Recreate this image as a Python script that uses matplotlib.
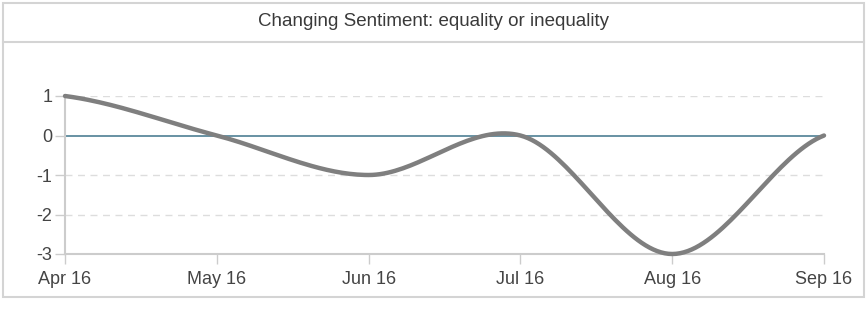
import numpy as np
import matplotlib
matplotlib.use("Agg")
import matplotlib.pyplot as plt
from matplotlib.patches import Rectangle
from matplotlib.lines import Line2D

# chart data
months = ["Apr 16", "May 16", "Jun 16", "Jul 16", "Aug 16", "Sep 16"]
sentiment = [1, 0, -1, 0, -3, 0]
yticks = [1, 0, -1, -2, -3]
title = "Changing Sentiment: equality or inequality"

plt.rcParams["font.family"] = ["Liberation Sans", "DejaVu Sans"]


def cardinal(x, y, n=40):
    # cardinal (catmull-rom) spline like the d3 "cardinal" line
    x = np.asarray(x, float)
    y = np.asarray(y, float)
    ext = np.concatenate([[y[0]], y, [y[-1]]])
    m = (ext[2:] - ext[:-2]) / 2.0
    xs, ys = [], []
    for i in range(len(x) - 1):
        t = np.linspace(0, 1, n, endpoint=(i == len(x) - 2))
        h00 = 2 * t**3 - 3 * t**2 + 1
        h10 = t**3 - 2 * t**2 + t
        h01 = -2 * t**3 + 3 * t**2
        h11 = t**3 - t**2
        dx = x[i + 1] - x[i]
        xs.append(x[i] + t * dx)
        ys.append(h00 * y[i] + h10 * dx * m[i] + h01 * y[i + 1] + h11 * dx * m[i + 1])
    return np.concatenate(xs), np.concatenate(ys)


W, H = 867, 327
fig = plt.figure(figsize=(W / 100, H / 100), dpi=100)

# outer frame and title band
fig.patches.append(Rectangle((3 / W, 1 - 297 / H), 861 / W, 294 / H, transform=fig.transFigure,
                             fill=False, edgecolor="#d4d4d4", linewidth=1.5))
fig.lines.append(Line2D([3 / W, 864 / W], [1 - 42 / H, 1 - 42 / H], transform=fig.transFigure,
                        color="#d4d4d4", linewidth=1.5))
fig.text(0.5, 1 - 21 / H, title, ha="center", va="center", fontsize=13.5, color="#3a3a3a")

ax = fig.add_axes([65 / W, 1 - 254 / H, (824 - 65) / W, (254 - 96) / H])
x = np.arange(len(months))
sx, sy = cardinal(x, sentiment)

for v in yticks:
    if v not in (0, -3):
        ax.axhline(v, color="#dddddd", linewidth=1, linestyle=(0, (5, 4)), zorder=1)
ax.axhline(0, color="#4e7f93", linewidth=1.2, zorder=2)
ax.plot(sx, sy, color="#7f7f7f", linewidth=3.2, solid_capstyle="round", clip_on=False, zorder=3)

ax.set_xlim(x[0], x[-1])
ax.set_ylim(-3, 1)
ax.set_xticks(x)
ax.set_xticklabels(months)
ax.set_yticks(yticks)
ax.set_yticklabels([str(v) for v in yticks])

for s in ("top", "right"):
    ax.spines[s].set_visible(False)
for s in ("left", "bottom"):
    ax.spines[s].set_color("#cccccc")
    ax.spines[s].set_linewidth(1.5)
ax.tick_params(axis="both", colors="#cccccc", labelcolor="#444444", labelsize=13, length=7, width=1)
ax.tick_params(axis="x", pad=5)
ax.tick_params(axis="y", pad=2)

fig.savefig("out.png", dpi=100)
